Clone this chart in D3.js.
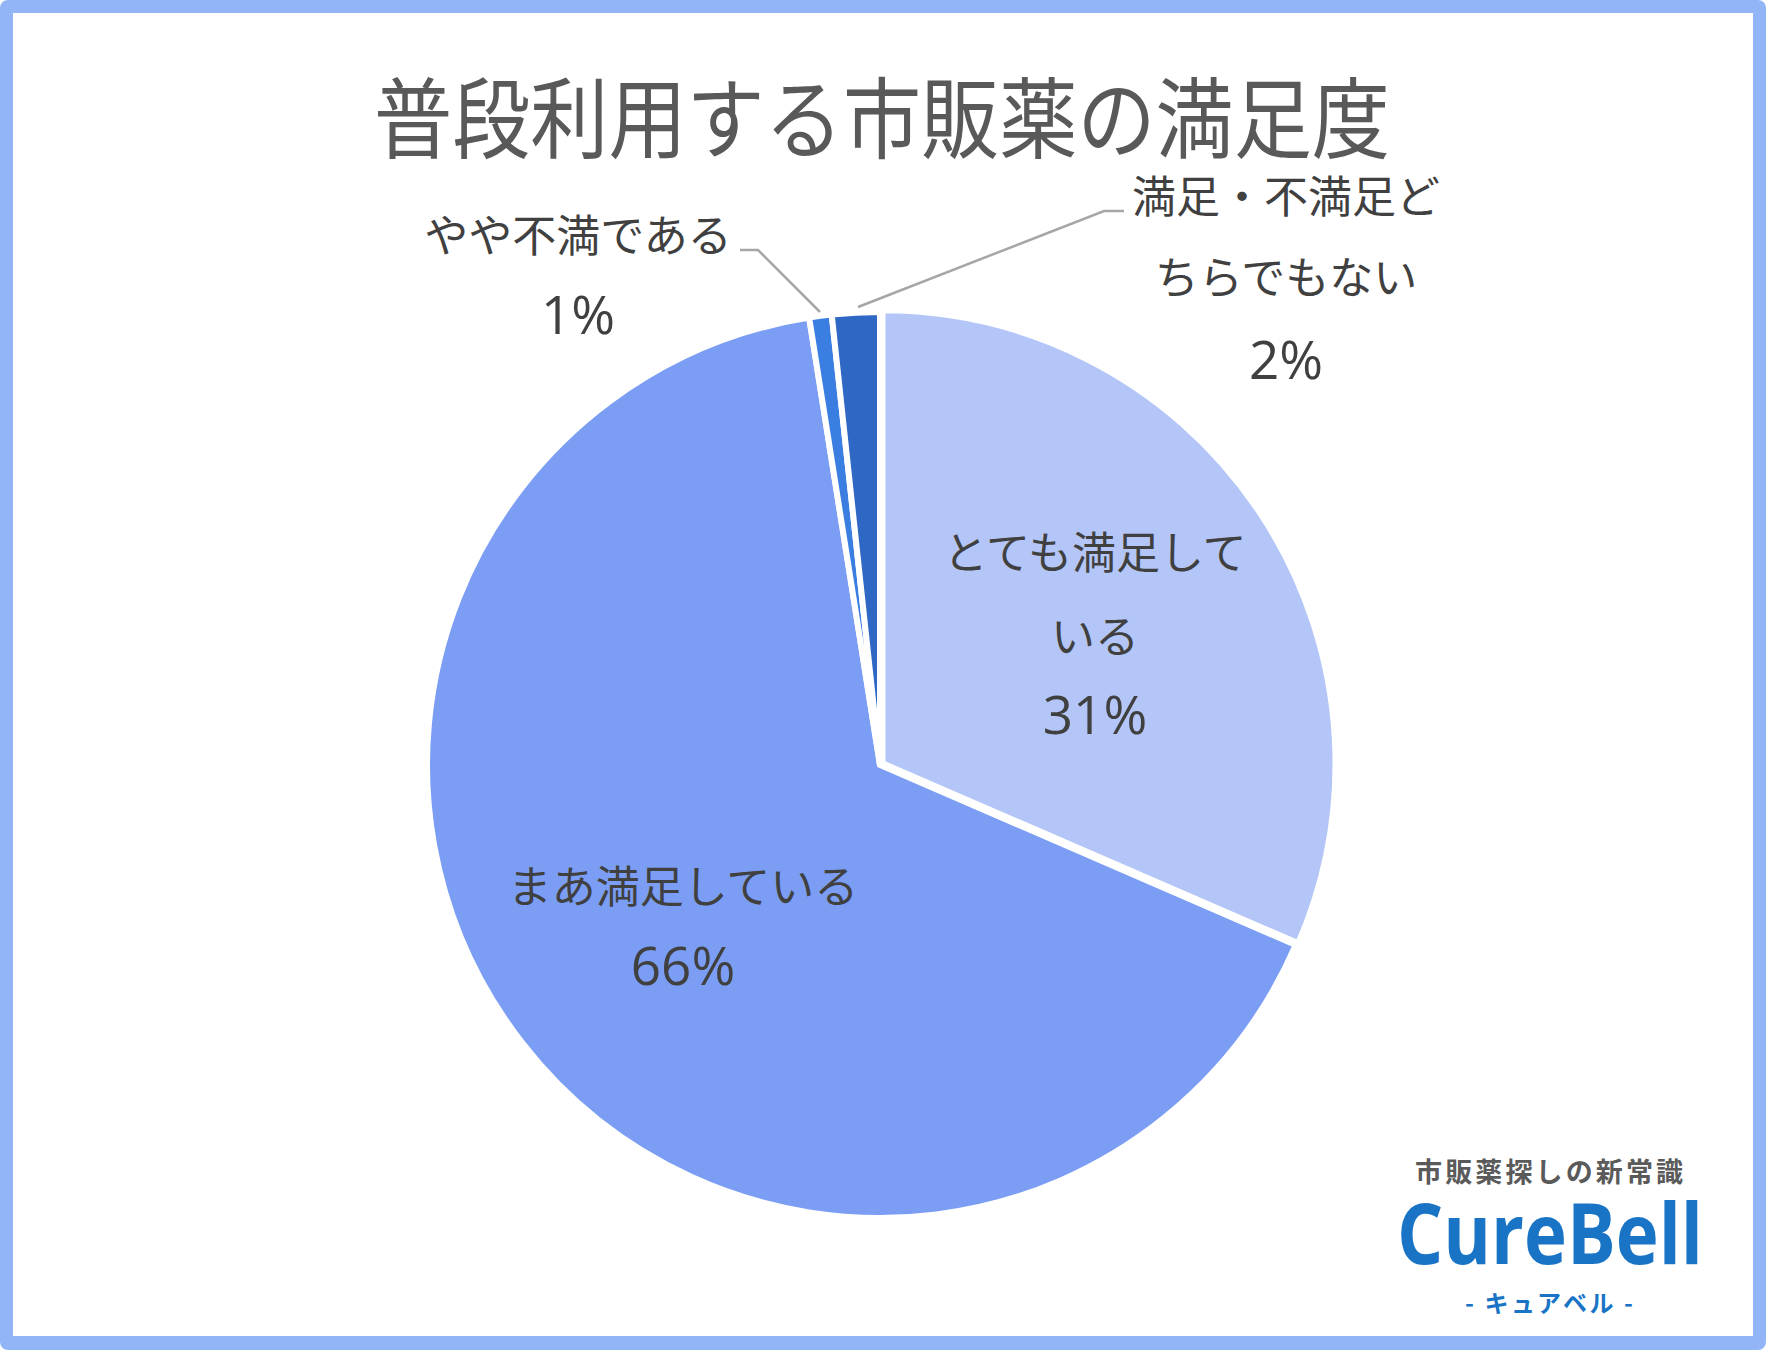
<!DOCTYPE html>
<html><head><meta charset="utf-8">
<script src="https://cdn.jsdelivr.net/npm/d3@7/dist/d3.min.js"></script>
<style>html,body{margin:0;padding:0;background:#fff;}svg{display:block;}</style>
</head><body>
<svg id="c" width="1766" height="1350"></svg>
<script>
const categories = ["とても満足している", "まあ満足している", "やや不満である", "満足・不満足どちらでもない"];
const values = [31.5, 66.0, 0.8, 1.7];
const percentLabels = ["31%", "66%", "1%", "2%"];
const labelLines = [["とても満足して", "いる"], ["まあ満足している"], ["やや不満である"], ["満足・不満足ど", "ちらでもない"]];
const colors = ["#b4c6f8", "#7b9ef4", "#3a7ee2", "#2f67c4"];
const title = "普段利用する市販薬の満足度";

const svg = d3.select("#c");
const W = 1766, H = 1350;
// frame
svg.append("rect").attr("x", 0).attr("y", 0).attr("width", W).attr("height", H).attr("rx", 8).attr("fill", "#91b5f7");
svg.append("rect").attr("x", 13).attr("y", 13).attr("width", W - 26).attr("height", H - 27).attr("fill", "#fff");

svg.append("text").attr("x", 882).attr("y", 0).attr("text-anchor", "middle").attr("dominant-baseline", "central")
  .attr("transform", "translate(0,112) scale(1,1.1)")
  .attr("font-family", "'Noto Sans CJK JP', sans-serif").attr("font-size", 80).attr("fill", "#595959")
  .attr("textLength", 1016).attr("lengthAdjust", "spacingAndGlyphs").text(title);

const cx = 880, cy = 765, R = 453;
const pie = d3.pie().sort(null).value(d => d)(values);
const arc = d3.arc().innerRadius(0).outerRadius(R);
const g = svg.append("g").attr("transform", `translate(${cx},${cy})`);
g.selectAll("path").data(pie).join("path")
  .attr("d", arc)
  .attr("fill", (d, i) => colors[i])
  .attr("stroke", "#fff").attr("stroke-width", 6).attr("stroke-linejoin", "miter")
  .attr("transform", (d, i) => {
    if (i !== 0) return null;
    const a = (d.startAngle + d.endAngle) / 2;
    return `translate(${3 * Math.sin(a)},${-3 * Math.cos(a)})`;
  });

// leader lines
const leaders = [
  null, null,
  [[740, 250], [758, 250], [820, 312]],
  [[858, 307], [1104, 211], [1124, 211]]
];
leaders.forEach(l => {
  if (!l) return;
  svg.append("polyline").attr("points", l.map(p => p.join(",")).join(" "))
    .attr("fill", "none").attr("stroke", "#a6a6a6").attr("stroke-width", 2.5);
});

const labelPos = [
  {x: 1095, y: [550, 634], py: 715},
  {x: 683, y: [884], py: 966},
  {x: 578, y: [233], py: 315},
  {x: 1286, y: [194, 275], py: 360}
];
labelLines.forEach((lines, i) => {
  lines.forEach((t, j) => {
    svg.append("text").attr("x", labelPos[i].x).attr("y", labelPos[i].y[j])
      .attr("text-anchor", "middle").attr("dominant-baseline", "central")
      .attr("font-family", "'Noto Sans CJK JP', sans-serif").attr("font-size", 44)
      .attr("fill", "#404040").text(t);
  });
  svg.append("text").attr("x", labelPos[i].x).attr("y", labelPos[i].py + 19)
    .attr("text-anchor", "middle")
    .attr("font-family", "'Open Sans', sans-serif").attr("font-size", 53)
    .attr("fill", "#404040").text(percentLabels[i]);
});

// logo
svg.append("text").attr("x", 1549).attr("y", 1170).attr("text-anchor", "middle").attr("dominant-baseline", "central")
  .attr("font-family", "'Noto Sans CJK JP', sans-serif").attr("font-weight", 700).attr("font-size", 27)
  .attr("fill", "#5a5a5a").attr("textLength", 268).text("市販薬探しの新常識");
svg.append("text").attr("x", 1550).attr("y", 1264).attr("text-anchor", "middle")
  .attr("font-family", "'Open Sans', sans-serif").attr("font-weight", 700).attr("font-size", 84)
  .attr("fill", "#1a74c6").attr("textLength", 306).attr("lengthAdjust", "spacingAndGlyphs").text("CureBell");
svg.append("text").attr("x", 1549).attr("y", 1301).attr("text-anchor", "middle").attr("dominant-baseline", "central")
  .attr("font-family", "'Noto Sans CJK JP', sans-serif").attr("font-weight", 700).attr("font-size", 24)
  .attr("fill", "#1a74c6").attr("textLength", 168).attr("xml:space", "preserve").text("- キュアベル -");
</script>
</body></html>
